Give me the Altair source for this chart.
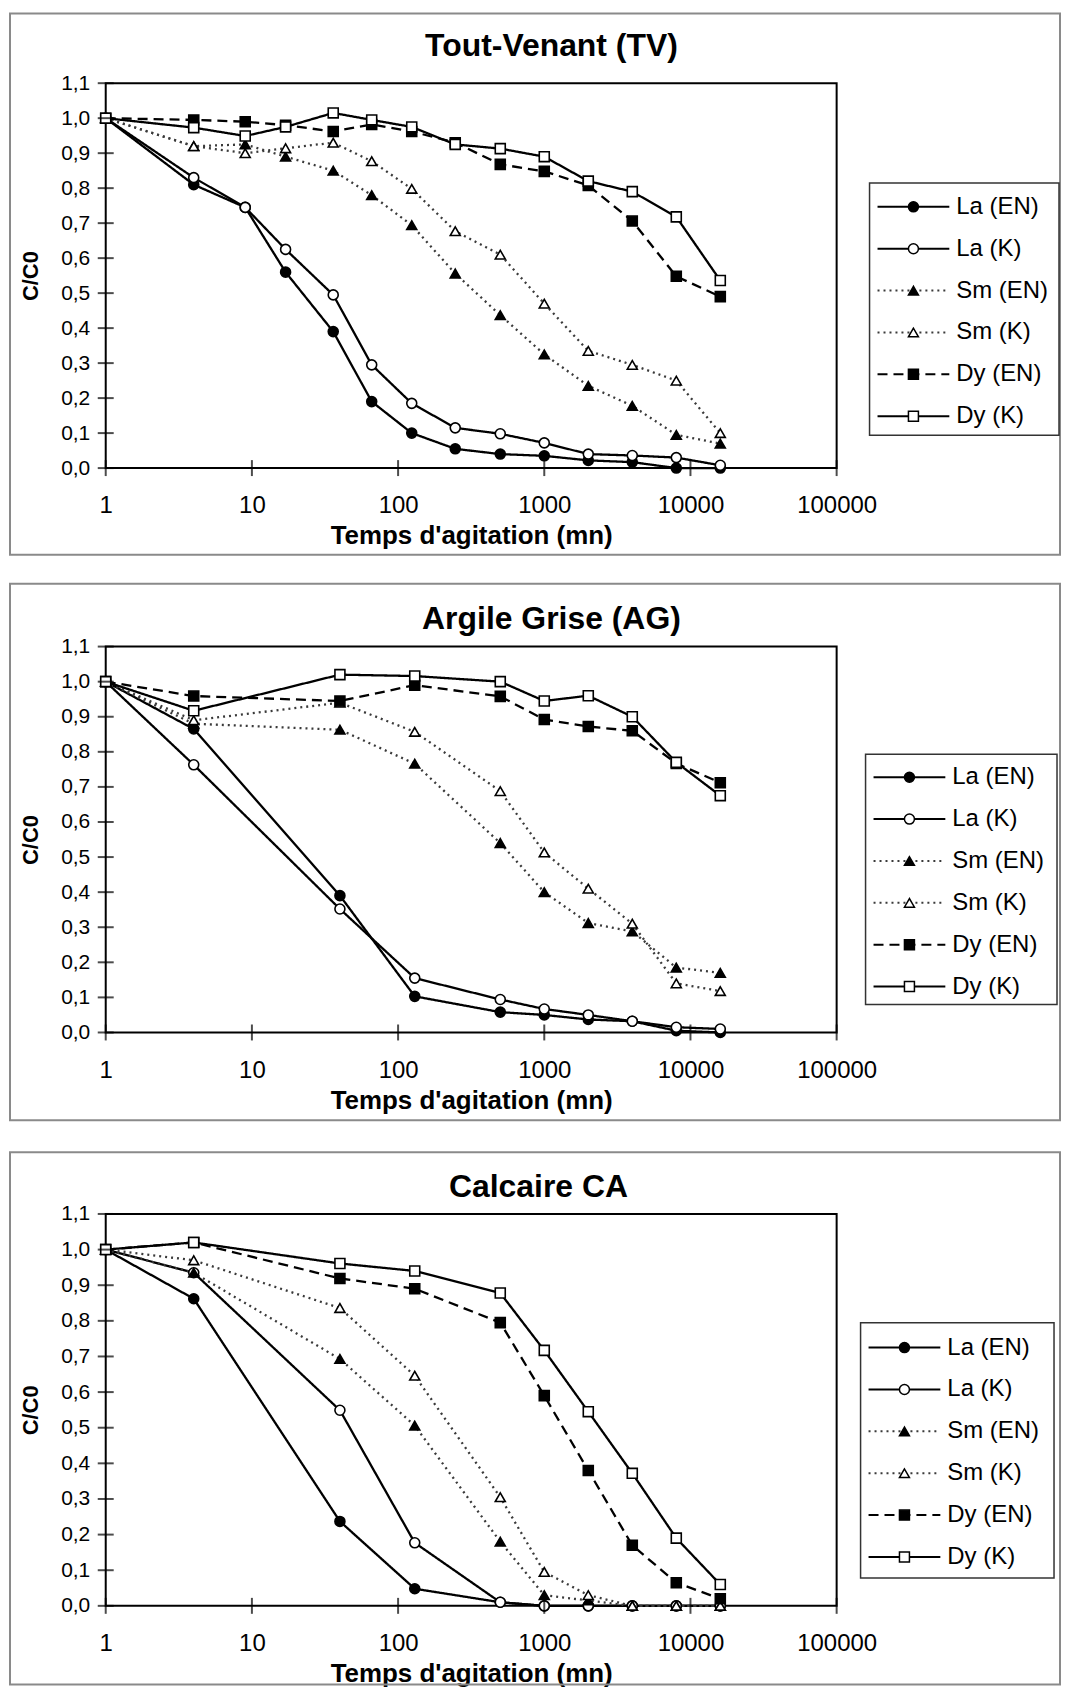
import altair as alt
import pandas as pd

# ---------------- data ----------------
SERIES = ["La (EN)", "La (K)", "Sm (EN)", "Sm (K)", "Dy (EN)", "Dy (K)"]
X_TICKS = [1, 10, 100, 1000, 10000, 100000]
Y_TICKS = [0.0, 0.1, 0.2, 0.3, 0.4, 0.5, 0.6, 0.7, 0.8, 0.9, 1.0, 1.1]
TITLES = ["Tout-Venant (TV)", "Argile Grise (AG)", "Calcaire CA"]

# Tout-Venant (TV)
TV_TIME = [1, 4, 9, 17, 36, 66, 124, 246, 500, 1000, 2000, 4000, 8000, 16000]
TV_LA_EN = [1.0, 0.81, 0.745, 0.56, 0.39, 0.19, 0.10, 0.055, 0.04, 0.035, 0.022, 0.017, 0.0, 0.0]
TV_LA_K = [1.0, 0.83, 0.745, 0.625, 0.495, 0.295, 0.185, 0.115, 0.098, 0.072, 0.04, 0.036, 0.03, 0.008]
TV_SM_EN = [1.0, 0.92, 0.925, 0.89, 0.85, 0.78, 0.694, 0.556, 0.437, 0.325, 0.235, 0.178, 0.095, 0.07]
TV_SM_K = [1.0, 0.92, 0.90, 0.914, 0.93, 0.877, 0.798, 0.677, 0.61, 0.47, 0.335, 0.295, 0.25, 0.10]
TV_DY_EN = [1.0, 0.995, 0.99, 0.98, 0.962, 0.982, 0.962, 0.93, 0.868, 0.848, 0.808, 0.706, 0.548, 0.49]
TV_DY_K = [1.0, 0.973, 0.949, 0.975, 1.015, 0.995, 0.975, 0.925, 0.913, 0.89, 0.82, 0.79, 0.718, 0.536]

# Argile Grise (AG)
AG_TIME = [1, 4, 40, 130, 500, 1000, 2000, 4000, 8000, 16000]
AG_LA_EN = [1.0, 0.865, 0.39, 0.103, 0.058, 0.05, 0.037, 0.032, 0.005, 0.0]
AG_LA_K = [1.0, 0.763, 0.352, 0.155, 0.094, 0.067, 0.05, 0.032, 0.015, 0.01]
AG_SM_EN = [1.0, 0.88, 0.863, 0.766, 0.54, 0.40, 0.312, 0.288, 0.185, 0.17]
AG_SM_K = [1.0, 0.89, 0.94, 0.857, 0.688, 0.513, 0.41, 0.31, 0.14, 0.118]
AG_DY_EN = [1.0, 0.959, 0.945, 0.99, 0.958, 0.892, 0.872, 0.86, 0.767, 0.712]
AG_DY_K = [1.0, 0.917, 1.02, 1.016, 1.0, 0.945, 0.96, 0.90, 0.77, 0.675]

# Calcaire CA
CA_TIME = [1, 4, 40, 130, 500, 1000, 2000, 4000, 8000, 16000]
CA_LA_EN = [1.0, 0.862, 0.237, 0.048, 0.01, 0.0, 0.0, 0.0, 0.0, 0.0]
CA_LA_K = [1.0, 0.935, 0.549, 0.177, 0.01, 0.0, 0.0, 0.0, 0.0, 0.0]
CA_SM_EN = [1.0, 0.935, 0.693, 0.506, 0.18, 0.03, 0.015, 0.0, 0.0, 0.0]
CA_SM_K = [1.0, 0.97, 0.836, 0.646, 0.305, 0.095, 0.03, 0.0, 0.0, 0.0]
CA_DY_EN = [1.0, 1.02, 0.919, 0.89, 0.795, 0.59, 0.38, 0.17, 0.065, 0.02]
CA_DY_K = [1.0, 1.02, 0.961, 0.94, 0.878, 0.717, 0.545, 0.372, 0.19, 0.06]

# ---------------- styles ----------------
FONT = "Liberation Sans"
DASHES = [[1, 0], [1, 0], [2, 4], [2, 4], [10, 6], [1, 0]]
SHAPES = ["circle", "circle", "triangle-up", "triangle-up", "square", "square"]
FILLS = ["black", "white", "black", "white", "black", "white"]
STROKES = ["black", "black", "#3a3a3a", "#3a3a3a", "black", "black"]
SIZES = [100, 100, 165, 165, 100, 100]

dash_scale = alt.Scale(domain=SERIES, range=DASHES)
shape_scale = alt.Scale(domain=SERIES, range=SHAPES)
fill_scale = alt.Scale(domain=SERIES, range=FILLS)
stroke_scale = alt.Scale(domain=SERIES, range=STROKES)
size_scale = alt.Scale(domain=SERIES, range=SIZES)


def series_table(times, columns):
    rows = []
    for name, values in zip(SERIES, columns):
        for t, v in zip(times, values):
            rows.append({"t": t, "v": v, "s": name})
    return pd.DataFrame(rows)


def panel(title, times, columns, width, height, title_pos, frame, legend):
    data = series_table(times, columns)
    x = alt.X(
        "t:Q",
        scale=alt.Scale(type="log", domain=[1, 100000], nice=False),
        title="Temps d'agitation (mn)",
        axis=alt.Axis(values=X_TICKS, format="d", ticks=False, domain=False, grid=False,
                      labelFont=FONT, labelFontSize=24, labelColor="black", labelPadding=26,
                      labelFlush=False, labelOverlap=False,
                      titleFont=FONT, titleFontSize=26, titleFontWeight="bold",
                      titleColor="black", titlePadding=5),
    )
    y = alt.Y(
        "v:Q",
        scale=alt.Scale(domain=[0, 1.1], nice=False, zero=False),
        title="C/C0",
        axis=alt.Axis(values=Y_TICKS, labelExpr="replace(format(datum.value, '.1f'), '.', ',')",
                      ticks=False, domain=False, grid=False,
                      labelFont=FONT, labelFontSize=21, labelColor="black", labelPadding=16,
                      titleFont=FONT, titleFontSize=22, titleFontWeight="bold",
                      titleColor="black", titlePadding=18),
    )
    one = alt.Data(values=[{"k": 1}])
    box = alt.Chart(one).mark_rect(
        fillOpacity=0, stroke="#8a8a8a", strokeWidth=2
    ).encode(x=alt.value(frame[0]), x2=alt.value(frame[1]),
             y=alt.value(frame[2]), y2=alt.value(frame[3]))
    head = alt.Chart(one).mark_text(
        text=title, font=FONT, fontSize=32, fontWeight="bold", color="black",
        align="center", baseline="middle"
    ).encode(x=alt.value(title_pos[0]), y=alt.value(title_pos[1]))
    lines = alt.Chart(data).mark_line(strokeWidth=2.3).encode(
        x=x, y=y,
        strokeDash=alt.StrokeDash("s:N", scale=dash_scale, legend=None),
        stroke=alt.Stroke("s:N", scale=stroke_scale, legend=None),
    )
    points = alt.Chart(data).mark_point(opacity=1, fillOpacity=1, strokeWidth=1.6, stroke="black").encode(
        x=x, y=y,
        shape=alt.Shape("s:N", scale=shape_scale, legend=None),
        fill=alt.Fill("s:N", scale=fill_scale, legend=None),
        size=alt.Size("s:N", scale=size_scale, legend=None),
    )
    ytick_df = pd.DataFrame({"t": [1] * len(Y_TICKS), "v": Y_TICKS})
    xtick_df = pd.DataFrame({"t": X_TICKS, "v": [0] * len(X_TICKS)})
    yticks = alt.Chart(ytick_df).mark_tick(orient="horizontal", size=16, thickness=2, color="black").encode(x=x, y=y)
    xticks = alt.Chart(xtick_df).mark_tick(orient="vertical", size=16, thickness=2, color="black").encode(x=x, y=y)
    plot = alt.layer(box, head, lines, points, yticks, xticks)

    # legend: its own vertical scale over the series index
    lx, lw, first, gap, btop, bbot = legend
    lg = pd.DataFrame({"s": SERIES, "idx": list(range(len(SERIES)))})
    ly = alt.Y("idx:Q", scale=alt.Scale(domain=[-first / gap, (height - first) / gap],
                                        reverse=True, nice=False, zero=False), axis=None)
    lbox = alt.Chart(one).mark_rect(
        fill="white", stroke="#333333", strokeWidth=1.5
    ).encode(x=alt.value(lx), x2=alt.value(lx + lw), y=alt.value(btop), y2=alt.value(bbot))
    lrules = alt.Chart(lg).mark_rule(strokeWidth=2).encode(
        x=alt.value(lx + 8), x2=alt.value(lx + 80), y=ly,
        strokeDash=alt.StrokeDash("s:N", scale=dash_scale, legend=None),
        stroke=alt.Stroke("s:N", scale=stroke_scale, legend=None),
    )
    lpts = alt.Chart(lg).mark_point(opacity=1, fillOpacity=1, strokeWidth=1.5, stroke="black").encode(
        x=alt.value(lx + 44), y=ly,
        shape=alt.Shape("s:N", scale=shape_scale, legend=None),
        fill=alt.Fill("s:N", scale=fill_scale, legend=None),
        size=alt.Size("s:N", scale=size_scale, legend=None),
    )
    ltxt = alt.Chart(lg).mark_text(align="left", baseline="middle", font=FONT, fontSize=24, color="black").encode(
        x=alt.value(lx + 87), y=ly, text="s:N"
    )
    leg = alt.layer(lbox, lrules, lpts, ltxt)

    return alt.layer(plot, leg).resolve_scale(y="independent").properties(
        width=width, height=height,
        view=alt.ViewBackground(stroke="black", strokeWidth=2, fill="white"),
    )


W = 733
p1 = panel(TITLES[0], TV_TIME, [TV_LA_EN, TV_LA_K, TV_SM_EN, TV_SM_K, TV_DY_EN, TV_DY_K],
           W, 386, [447, -37], [-96, 957, -70, 473], [766, 190, 124, 42, 100, 353])
p2 = panel(TITLES[1], AG_TIME, [AG_LA_EN, AG_LA_K, AG_SM_EN, AG_SM_K, AG_DY_EN, AG_DY_K],
           W, 387, [447, -28], [-96, 957, -63, 475], [762, 192, 131, 42, 108, 359])
p3 = panel(TITLES[2], CA_TIME, [CA_LA_EN, CA_LA_K, CA_SM_EN, CA_SM_K, CA_DY_EN, CA_DY_K],
           W, 393, [434, -27], [-96, 957, -62, 472], [757, 194, 134, 42, 109, 365])

chart = alt.vconcat(
    alt.vconcat(p1, p2, spacing=25),
    p3, spacing=28,
).properties(
    padding={"left": 0, "top": 1, "right": 0, "bottom": 0},
    background="white",
).configure_view(stroke="transparent")

chart.save("out.html", embed_options={"renderer": "svg", "actions": False})
